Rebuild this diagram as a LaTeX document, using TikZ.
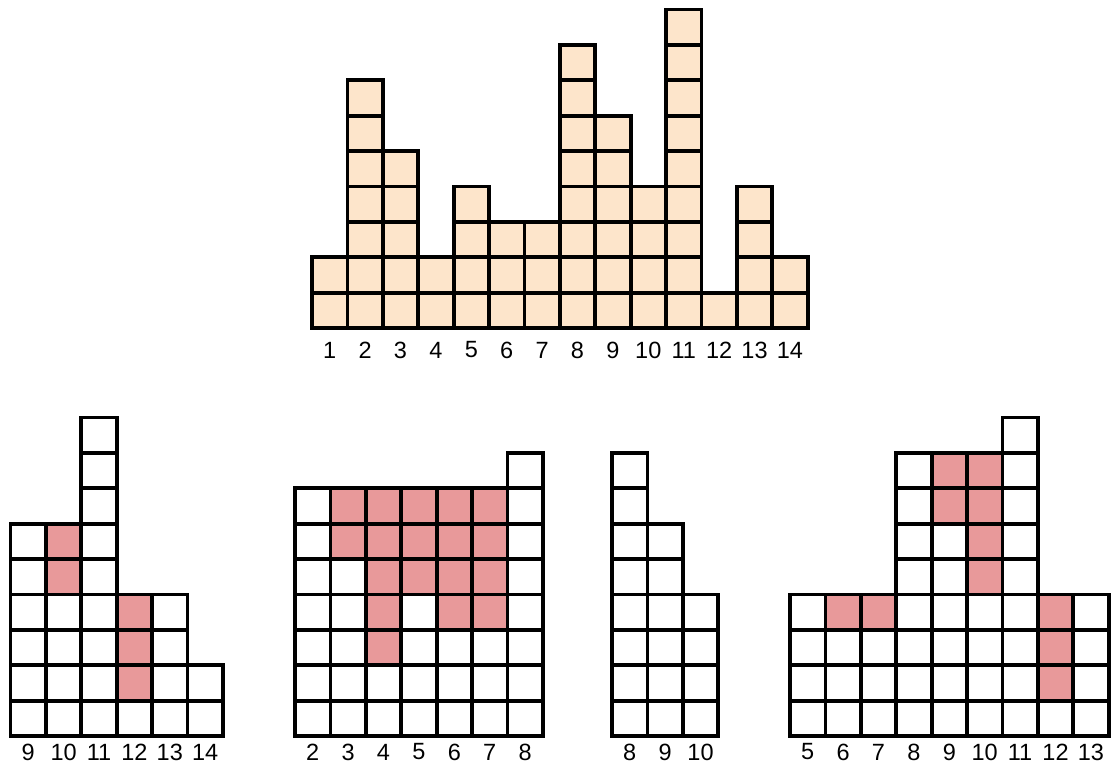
\documentclass[tikz,border=0pt]{standalone}
\usepackage{fontspec}
\setmainfont{Liberation Sans}
\definecolor{peach}{HTML}{FDE5CB}
\definecolor{rose}{HTML}{E8999A}
\begin{document}
\begin{tikzpicture}[x=1pt,y=-1pt,
  cell/.style={draw=black, line width=3.8pt, line join=miter},
  lab/.style={font=\fontsize{23.5}{23.5}\selectfont, inner sep=0pt}]
\def\s{35.4}
\useasboundingbox (0,0) rectangle (1112,769);
% top histogram
\foreach \h [count=\c] in {2,7,5,2,4,3,3,8,6,4,9,1,4,2} {
  \foreach \r in {1,...,\h} {
    \draw[cell, fill=peach] ({312+(\c-1)*\s},{328-(\r-1)*\s}) rectangle +(\s,-\s);
  }
  \node[lab] (top\c) at ({312+(\c-0.5)*\s},350) {\c};
}
% bottom panels: #1 name, #2 left x, #3 first label, #4 heights, #5 red cells (col/row)
\newcommand\mypanel[5]{%
  \foreach \h [count=\c] in {#4} {
    \foreach \r in {1,...,\h} {
      \draw[cell, fill=white] ({#2+(\c-1)*\s},{736-(\r-1)*\s}) rectangle +(\s,-\s);
    }
    \pgfmathtruncatemacro\lbl{#3+\c-1}
    \node[lab] (#1\c) at ({#2+(\c-0.5)*\s},752) {\lbl};
  }
  \foreach \cc/\rr in {#5} {
    \draw[cell, fill=rose] ({#2+(\cc-1)*\s},{736-(\rr-1)*\s}) rectangle +(\s,-\s);
  }
}
\mypanel{pa}{10.5}{9}{6,6,9,4,4,2}{2/5,2/6,4/2,4/3,4/4}
\mypanel{pb}{295}{2}{7,7,7,7,7,7,8}{2/6,2/7,3/3,3/4,3/5,3/6,3/7,4/5,4/6,4/7,5/4,5/5,5/6,5/7,6/4,6/5,6/6,6/7}
\mypanel{pc}{612}{8}{8,6,4}{}
\mypanel{pd}{790}{5}{4,4,4,8,8,8,9,4,4}{2/4,3/4,5/7,5/8,6/5,6/6,6/7,6/8,8/2,8/3,8/4}
\end{tikzpicture}
\end{document}
